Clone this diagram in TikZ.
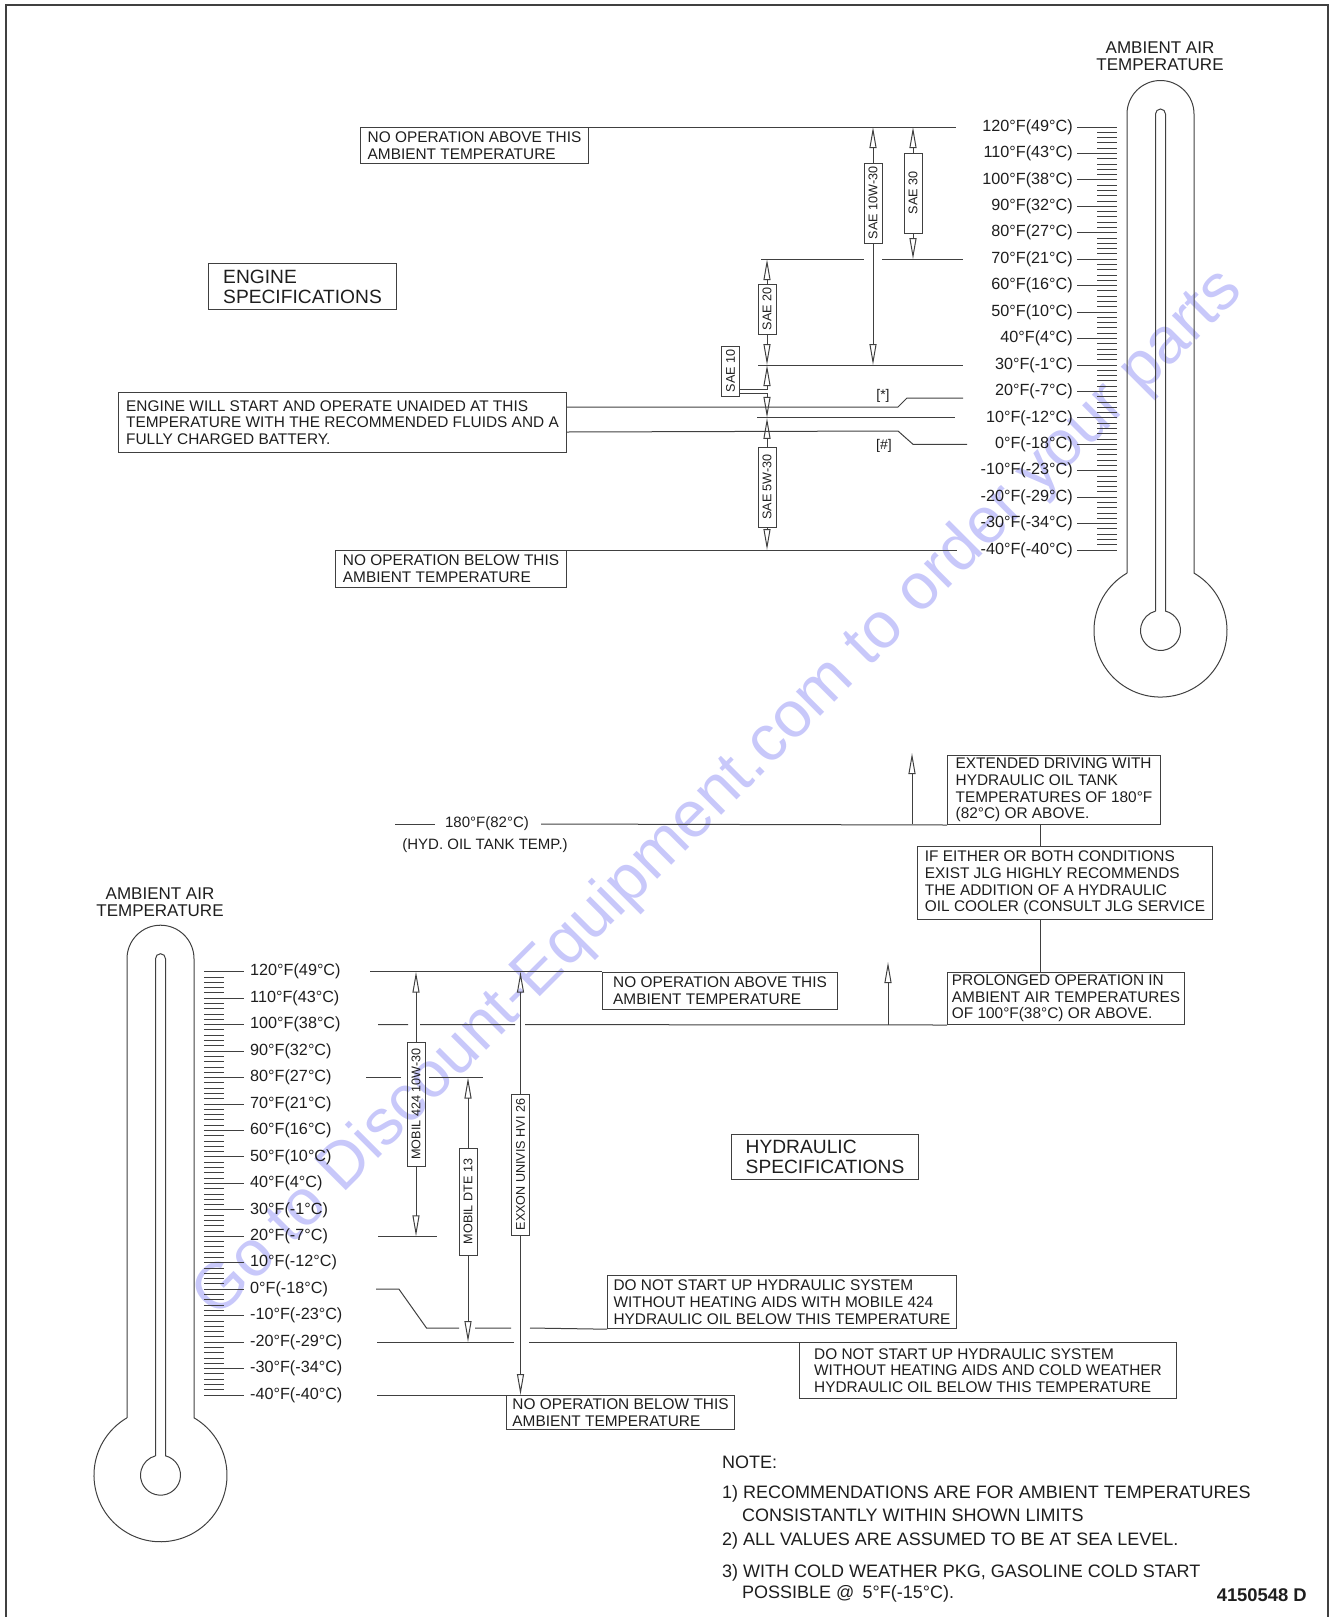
\documentclass[tikz,border=0pt]{standalone}
\usepackage{fontspec}
\setmainfont{Liberation Sans}
\usetikzlibrary{arrows.meta,positioning}
\definecolor{lineColor}{HTML}{404040}
\definecolor{textColor}{HTML}{1E1E1E}
\definecolor{markColor}{HTML}{C8C8FA}

\begin{document}
\begin{tikzpicture}[
    x=1pt, y=-1pt,
    >={Triangle[open, length=21pt, width=7pt]},
    scaleline/.style={draw=lineColor, line width=1pt},
    tickmark/.style={draw=lineColor, line width=0.9pt},
    oilarrow/.style={->, draw=lineColor, line width=1pt},
    notebox/.style={draw=lineColor, line width=1pt, anchor=north west, align=left, inner sep=0pt, text=textColor, font=\fontsize{15.4}{16.7}\selectfont},
    specbox/.style={notebox, font=\fontsize{19.2}{20}\selectfont},
    oilbox/.style={draw=lineColor, line width=1pt, rotate=90, minimum height=18pt, inner sep=1.5pt, text=textColor, font=\fontsize{12.6}{13}\selectfont},
    templabel/.style={inner sep=0pt, text=textColor, font=\fontsize{16.2}{17}\selectfont},
    headlabel/.style={align=center, inner sep=0pt, text=textColor, font=\fontsize{17}{16.5}\selectfont},
    smalllabel/.style={inner sep=0pt, text=textColor, font=\fontsize{15}{16}\selectfont},
    footlabel/.style={inner sep=0pt, text=textColor, font=\fontsize{14}{15}\selectfont},
    notetext/.style={anchor=west, inner sep=0pt, text=textColor, font=\fontsize{18}{21}\selectfont},
  ]
  \useasboundingbox (0,0) rectangle (1330,1617);

  % Watermark
  \node[rotate=45, inner sep=0pt, text=markColor, font=\fontsize{65}{65}\selectfont] (watermark) at (719,794) {Go to Discount-Equipment.com to order your parts};

  % Frame
  \draw[line width=1.8pt, draw=lineColor] (6,5) rectangle (1328,1640);

  % Temperature levels
  \coordinate (t120) at (0,127);
  \coordinate (t70)  at (0,259.2);
  \coordinate (t30)  at (0,365);
  \coordinate (t10)  at (0,417.8);
  \coordinate (tm40) at (0,550);
  \coordinate (h180) at (0,824);
  \coordinate (b120) at (0,971.7);
  \coordinate (b100) at (0,1024.6);
  \coordinate (b80)  at (0,1077.5);
  \coordinate (b20)  at (0,1236.3);
  \coordinate (b0)   at (0,1289.2);
  \coordinate (bm20) at (0,1342.1);
  \coordinate (bm40) at (0,1395);

  % Thermometers
  \foreach \cx/\ty in {1160.5/127, 160.5/971.7} {
    \draw[scaleline] ({\cx-33.5},{\ty+446.1}) -- ({\cx-33.5},{\ty-13})
      arc[start angle=180, end angle=0, radius=33.5pt] -- ({\cx+33.5},{\ty+446.1})
      arc[start angle=59.74, end angle=-239.74, radius=66.5pt];
    \draw[scaleline] ({\cx-5},{\ty+484.1}) -- ({\cx-5},{\ty-13})
      arc[start angle=180, end angle=0, radius=5pt] -- ({\cx+5},{\ty+484.1})
      arc[start angle=75.52, end angle=-255.52, radius=20pt];
  }
  \node[headlabel] (ambtop) at (1160,56) {AMBIENT AIR\\TEMPERATURE};
  \node[headlabel] (ambbot) at (160,902) {AMBIENT AIR\\TEMPERATURE};

  % Scales
  \foreach \k in {0,...,80} {
    \draw[tickmark] (1097,{127+\k*5.288}) -- (1117,{127+\k*5.288});
    \draw[tickmark] (204,{971.7+\k*5.292}) -- (224,{971.7+\k*5.292});
  }
  \foreach \f/\c [count=\i from 0] in {120/49,110/43,100/38,90/32,80/27,70/21,60/16,50/10,40/4,30/-1,20/-7,10/-12,0/-18,-10/-23,-20/-29,-30/-34,-40/-40} {
    \draw[tickmark] (1077,{127+\i*26.44}) -- (1097,{127+\i*26.44});
    \node[templabel, anchor=east] (ta\i) at (1073,{127+\i*26.44}) {\f°F(\c°C)};
    \draw[tickmark] (224,{971.7+\i*26.46}) -- (244,{971.7+\i*26.46});
    \node[templabel, anchor=west] (ba\i) at (250,{971.7+\i*26.46}) {\f°F(\c°C)};
  }

  % Engine nodes
  \node[notebox, minimum width=228pt, minimum height=36pt] (noabove) at (360,127) {NO OPERATION ABOVE THIS\\AMBIENT TEMPERATURE};
  \node[specbox, minimum width=188pt, minimum height=46pt] (engspec) at (208,263) {ENGINE\\SPECIFICATIONS};
  \node[notebox, minimum width=448pt, minimum height=60pt] (unaided) at (118,392) {ENGINE WILL START AND OPERATE UNAIDED AT THIS\\TEMPERATURE WITH THE RECOMMENDED FLUIDS AND A\\FULLY CHARGED BATTERY.};
  \node[notebox, minimum width=231pt, minimum height=37pt] (nobelow) at (335,550) {NO OPERATION BELOW THIS\\AMBIENT TEMPERATURE};
  \node[oilbox, minimum width=80pt] (sae1030) at (873,203) {SAE 10W-30};
  \node[oilbox, minimum width=80pt] (sae30) at (913,193) {SAE 30};
  \node[oilbox, minimum width=50pt] (sae20) at (767,309) {SAE 20};
  \node[oilbox, minimum width=50pt] (sae10) at (730.5,371) {SAE 10};
  \node[oilbox, minimum width=80pt] (sae530) at (767,487) {SAE 5W-30};
  \node[footlabel] (star) at (883,396) {[*]};
  \node[footlabel] (hash) at (884,446) {[\#]};

  % Engine lines
  \draw[scaleline] (noabove.north east) -- (956,127);
  \draw[scaleline] (761,259.2) -- (864,259.2) (882,259.2) -- (963,259.2);
  \draw[scaleline] (758,365) -- (963,365);
  \draw[scaleline] ([yshift=-15pt]unaided.north east) -- (898,407) -- (907,398) -- (963,398);
  \draw[scaleline] (757,417.8) -- (955,417.8);
  \draw[scaleline] ([yshift=21pt]unaided.south east) -- (898,431) -- (913,444.3) -- (967,444.3);
  \draw[scaleline] (nobelow.north east) -- (957,550);

  % Engine oil ranges
  \draw[oilarrow] (sae1030.east) -- (sae1030.east |- t120);
  \draw[oilarrow] (sae1030.west) -- (sae1030.west |- t30);
  \draw[oilarrow] (sae30.east) -- (sae30.east |- t120);
  \draw[oilarrow] (sae30.west) -- (sae30.west |- t70);
  \draw[oilarrow] (sae20.east) -- (sae20.east |- t70);
  \draw[oilarrow] (sae20.west) -- (sae20.west |- t30);
  \draw[oilarrow] ([yshift=7pt]sae10.south west) -| (sae20.west |- t30);
  \draw[oilarrow] ([yshift=3pt]sae10.south west) -| (sae530.east |- t10);
  \draw[oilarrow] (sae530.east) -- (sae530.east |- t10);
  \draw[oilarrow] (sae530.west) -- (sae530.west |- tm40);

  % Hydraulic tank nodes
  \node[smalllabel] (hydtemp) at (487,824) {180°F(82°C)};
  \node[smalllabel] (hydnote) at (485,846) {(HYD. OIL TANK TEMP.)};
  \node[notebox, minimum width=213pt, minimum height=69pt] (extdrive) at (947,755) {EXTENDED DRIVING WITH\\HYDRAULIC OIL TANK\\TEMPERATURES OF 180°F\\(82°C) OR ABOVE.};
  \node[notebox, minimum width=295pt, minimum height=73pt] (ifcond) at (917,846) {IF EITHER OR BOTH CONDITIONS\\EXIST JLG HIGHLY RECOMMENDS\\THE ADDITION OF A HYDRAULIC\\OIL COOLER (CONSULT JLG SERVICE};
  \node[notebox, minimum width=237pt, minimum height=52pt] (prolong) at (947,972) {PROLONGED OPERATION IN\\AMBIENT AIR TEMPERATURES\\OF 100°F(38°C) OR ABOVE.};
  \coordinate (tie) at (1040,0);
  \coordinate (up180) at (912,824);
  \coordinate (up100) at (888,1024.6);

  \draw[scaleline] ([xshift=-10pt]hydtemp.west) -- ++(-40,0);
  \draw[scaleline] ([xshift=12pt]hydtemp.east) -- (extdrive.south west);
  \draw[oilarrow] (up180) -- ++(0,-71);
  \draw[scaleline] (extdrive.south -| tie) -- (ifcond.north -| tie);
  \draw[scaleline] (ifcond.south -| tie) -- (prolong.north -| tie);

  % Hydraulic nodes
  \node[specbox, minimum width=187pt, minimum height=45pt] (hydspec) at (731,1134) {HYDRAULIC\\SPECIFICATIONS};
  \node[notebox, minimum width=235pt, minimum height=37pt] (hnoabove) at (602,971.7) {NO OPERATION ABOVE THIS\\AMBIENT TEMPERATURE};
  \node[notebox, minimum width=349pt, minimum height=53pt] (mobilstart) at (607,1275.2) {DO NOT START UP HYDRAULIC SYSTEM\\WITHOUT HEATING AIDS WITH MOBILE 424\\HYDRAULIC OIL BELOW THIS TEMPERATURE};
  \node[notebox, minimum width=377pt, minimum height=56pt] (coldstart) at (799,1342.1) {DO NOT START UP HYDRAULIC SYSTEM\\WITHOUT HEATING AIDS AND COLD WEATHER\\HYDRAULIC OIL BELOW THIS TEMPERATURE};
  \node[notebox, minimum width=228pt, minimum height=34pt] (hnobelow) at (506,1395) {NO OPERATION BELOW THIS\\AMBIENT TEMPERATURE};
  \node[oilbox, minimum width=124pt] (mobil424) at (416,1104) {MOBIL 424 10W-30};
  \node[oilbox, minimum width=107pt] (dte13) at (468,1201.5) {MOBIL DTE 13};
  \node[oilbox, minimum width=141pt] (exxon) at (520.5,1164.5) {EXXON UNIVIS HVI 26};

  % Hydraulic lines
  \draw[scaleline] (370,971.7) -- (hnoabove.north west);
  \draw[scaleline] (378,1024.6) -- (408,1024.6) (420,1024.6) -- (515,1024.6) (525,1024.6) -- (prolong.south west);
  \draw[oilarrow] (up100) -- ++(0,-62.6);
  \draw[scaleline] (366,1077.5) -- (401,1077.5) (429,1077.5) -- (483,1077.5);
  \draw[scaleline] (378,1236.3) -- (437,1236.3);
  \draw[scaleline] (376,1289.2) -- (399,1289.2) -- (426.5,1328) -- (459,1328) (475,1328) -- (511,1328) (530,1328) -- (mobilstart.south west);
  \draw[scaleline] (377,1342.1) -- (514,1342.1) (529,1342.1) -- (coldstart.north west);
  \draw[scaleline] (377,1395) -- (hnobelow.north west);

  % Hydraulic oil ranges
  \draw[oilarrow] (mobil424.east) -- (mobil424.east |- b120);
  \draw[oilarrow] (mobil424.west) -- (mobil424.west |- b20);
  \draw[oilarrow] (dte13.east) -- (dte13.east |- b80);
  \draw[oilarrow] (dte13.west) -- (dte13.west |- bm20);
  \draw[oilarrow] (exxon.east) -- (exxon.east |- b120);
  \draw[oilarrow] (exxon.west) -- (exxon.west |- bm40);

  % Notes
  \node[notetext] (notehead) at (722,1462) {NOTE:};
  \node[notetext] (note1) at (722,1494) {1) RECOMMENDATIONS ARE FOR AMBIENT TEMPERATURES};
  \node[notetext] (note1b) at (742,1515) {CONSISTANTLY WITHIN SHOWN LIMITS};
  \node[notetext] (note2) at (722,1541) {2) ALL VALUES ARE ASSUMED TO BE AT SEA LEVEL.};
  \node[notetext] (note3) at (722,1573) {3) WITH COLD WEATHER PKG, GASOLINE COLD START};
  \node[notetext] (note3b) at (742,1594) {POSSIBLE @\hspace{0.45em}5°F(-15°C).};
  \node[notetext, anchor=east, font=\fontsize{18.4}{20}\selectfont\bfseries] (docid) at (1307,1595) {4150548 D};

\end{tikzpicture}
\end{document}
